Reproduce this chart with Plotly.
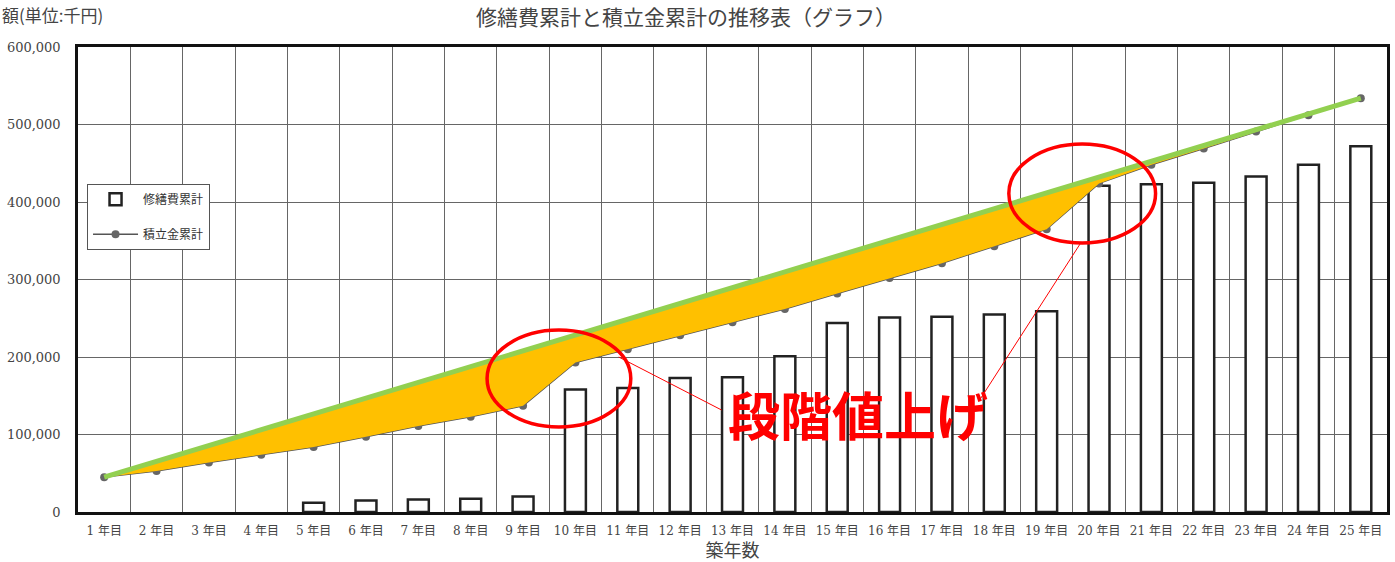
import plotly.graph_objects as go

# 築年数ラベル
years = ["1 年目", "2 年目", "3 年目", "4 年目", "5 年目", "6 年目", "7 年目", "8 年目",
         "9 年目", "10 年目", "11 年目", "12 年目", "13 年目", "14 年目", "15 年目",
         "16 年目", "17 年目", "18 年目", "19 年目", "20 年目", "21 年目", "22 年目",
         "23 年目", "24 年目", "25 年目"]
year_no = list(range(1, 26))

# 修繕費累計
repair_total = [0, 0, 0, 0, 12000, 15000, 16000, 17000, 20000, 158000, 160000, 173000,
                174000, 201000, 244000, 251000, 252000, 255000, 259000, 421000, 423000,
                425000, 433000, 448000, 472000]

# 積立金累計(段階値上げ方式)
reserve_total = [45000, 53000, 64000, 74000, 84000, 97000, 111000, 123000, 137000,
                 193000, 210000, 228000, 245000, 262000, 282000, 302000, 321000, 343000,
                 365000, 424000, 448000, 469000, 491000, 512000, 534000]

# 均等積立の場合の直線(初年度と最終年度を結ぶ)
even_x = [year_no[0], year_no[-1]]
even_y = [reserve_total[0], reserve_total[-1]]

y_ticks = [0, 100000, 200000, 300000, 400000, 500000, 600000]

label_font = "DejaVu Serif, Noto Sans CJK JP"
jp_font = "Noto Sans CJK JP"

fig = go.Figure()

# 費用ゼロの年は棒(枠線)を描かない
repair_bars = [v if v > 0 else None for v in repair_total]

fig.add_trace(go.Bar(
    x=year_no, y=repair_bars, name="修繕費累計", width=0.4,
    marker=dict(color="white", line=dict(color="#222222", width=2.5)),
    legendgroup="a",
))

fig.add_trace(go.Scatter(
    x=year_no, y=reserve_total, name="積立金累計", mode="lines+markers",
    line=dict(color="#555555", width=1.5),
    marker=dict(color="#666666", size=8),
    legendgroup="b",
))

# 均等積立との差分(塗りつぶし用の下端)
fig.add_trace(go.Scatter(
    x=year_no, y=reserve_total, mode="lines",
    line=dict(color="rgba(0,0,0,0)", width=0), showlegend=False, hoverinfo="skip",
))
fig.add_trace(go.Scatter(
    x=even_x, y=even_y, mode="lines", fill="tonexty", fillcolor="#FFC000",
    line=dict(color="#92D050", width=5), showlegend=False, hoverinfo="skip",
))

# 注記: 段階値上げ箇所
red = "#FF0000"
for x0, x1, y0, y1 in [(0.3125, 0.4223, 0.1828, 0.3914), (0.7111, 0.8232, 0.5785, 0.7914)]:
    fig.add_shape(type="circle", xref="paper", yref="paper", x0=x0, x1=x1, y0=y0, y1=y1,
                  line=dict(color=red, width=3.5))
for x0, y0, x1, y1 in [(0.4131, 0.3333, 0.4916, 0.2194), (0.7660, 0.5785, 0.6898, 0.2452)]:
    fig.add_shape(type="line", xref="paper", yref="paper", x0=x0, y0=y0, x1=x1, y1=y1,
                  line=dict(color=red, width=1))

fig.add_annotation(text="<b>段階値上げ</b>", xref="paper", yref="paper", x=0.5955, y=0.127,
                   showarrow=False, font=dict(family=jp_font, size=52, color=red))

fig.add_annotation(text="額(単位:千円)", xref="paper", yref="paper", x=-0.0595, y=1.069,
                   xanchor="left", yanchor="middle", showarrow=False,
                   font=dict(family=jp_font, size=17, color="#444444"))

fig.update_layout(
    width=1395, height=562,
    margin=dict(l=78, r=5, t=47, b=50),
    paper_bgcolor="white", plot_bgcolor="white",
    title=dict(text="修繕費累計と積立金累計の推移表（グラフ）", xref="container", yref="container",
               x=686 / 1395, y=1 - 18 / 562, xanchor="center", yanchor="middle",
               font=dict(family=jp_font, size=21, color="#444444")),
    legend=dict(x=0.0069, y=0.706, xanchor="left", yanchor="top",
                bordercolor="#555555", borderwidth=1, bgcolor="white",
                traceorder="grouped", tracegroupgap=16, itemwidth=45,
                font=dict(family=jp_font, size=12, color="#333333")),
    showlegend=True,
)

fig.update_xaxes(
    range=[0.5, 25.5], tickmode="array", tickvals=year_no, ticktext=years,
    showgrid=False, zeroline=False,
    showline=True, mirror=True, linecolor="#111111", linewidth=2.5,
    ticks="", ticklabelstandoff=6,
    tickfont=dict(family=label_font, size=12, color="#444444"),
    minor=dict(tick0=0.5, dtick=1, showgrid=True, gridcolor="#666666", gridwidth=1),
    title=dict(text="築年数", font=dict(family=jp_font, size=18, color="#444444"), standoff=3),
)

fig.update_yaxes(
    range=[0, 600000], tickmode="array", tickvals=y_ticks, tickformat=",d",
    showgrid=True, gridcolor="#666666", gridwidth=1, zeroline=False,
    showline=True, mirror=True, linecolor="#111111", linewidth=2.5,
    ticks="", ticklabelstandoff=12,
    tickfont=dict(family=label_font, size=13, color="#444444"),
)

fig.write_html("out.html")
